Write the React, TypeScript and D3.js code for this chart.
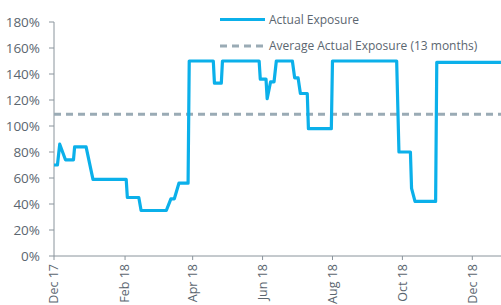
import React from 'react';
import * as d3 from 'd3';

// Actual exposure (date, % exposure)
const dates = [
  '2017-12-01', '2017-12-04', '2017-12-06', '2017-12-11', '2017-12-18', '2017-12-19',
  '2017-12-29', '2018-01-04', '2018-02-02', '2018-02-03', '2018-02-13', '2018-02-15',
  '2018-03-09', '2018-03-13', '2018-03-16', '2018-03-20', '2018-03-28', '2018-03-29',
  '2018-04-19', '2018-04-20', '2018-04-26', '2018-04-27', '2018-05-29', '2018-05-30',
  '2018-06-04', '2018-06-05', '2018-06-08', '2018-06-11', '2018-06-13', '2018-06-27',
  '2018-06-29', '2018-07-02', '2018-07-04', '2018-07-10', '2018-07-11', '2018-07-31',
  '2018-08-01', '2018-09-26', '2018-09-28', '2018-10-08', '2018-10-09', '2018-10-12',
  '2018-10-30', '2018-10-31', '2018-12-26'
];
const exposure = [
  70, 70, 86, 74, 74, 84,
  84, 59, 59, 45, 45, 35,
  35, 44, 44, 56, 56, 150,
  150, 133, 133, 150, 150, 136,
  136, 121, 134, 134, 150, 150,
  137, 137, 125, 125, 98, 98,
  150, 150, 80, 80, 52, 42,
  42, 149, 149
];
const averageExposure = 109;
const yTicks = [0, 20, 40, 60, 80, 100, 120, 140, 160, 180];
const xTickDates = ['2017-12-01', '2018-02-01', '2018-04-01', '2018-06-01', '2018-08-01', '2018-10-01', '2018-12-01'];
const seriesNames = ['Actual Exposure', 'Average Actual Exposure (13 months)'];

const W = 501;
const H = 305;
const margin = { top: 22, right: 0, bottom: 49, left: 54 };
const lineColor = '#0bb0ea';
const avgColor = '#9aabb5';
const textColor = '#5b6670';
const axisColor = '#8a949c';
const font = '"Open Sans", sans-serif';

const parse = d3.utcParse('%Y-%m-%d');
const fmt = d3.utcFormat('%b %y');

export default function App() {
  const x = d3.scaleUtc()
    .domain([parse('2017-12-01')!, parse('2018-12-01')!])
    .range([margin.left, 472.3]);
  const y = d3.scaleLinear().domain([0, 180]).range([H - margin.bottom, margin.top]);

  const points = dates.map((d, i) => ({ date: parse(d)!, v: exposure[i] }));
  const line = d3.line<{ date: Date; v: number }>()
    .x(d => x(d.date))
    .y(d => y(d.v));

  const x0 = margin.left;
  const x1 = W;
  const y0 = H - margin.bottom;

  return (
    <div style={{ position: 'fixed', left: 0, top: 0 }}>
      <svg width={W} height={H} style={{ display: 'block', fontFamily: font }}>
        <rect width={W} height={H} fill="#fff" />

        {/* y axis */}
        <line x1={x0} x2={x0} y1={y(180)} y2={y0} stroke={axisColor} strokeWidth={1} />
        {yTicks.map(t => (
          <g key={t}>
            <line x1={x0 - 5} x2={x0} y1={y(t)} y2={y(t)} stroke={axisColor} />
            <text x={40} y={y(t)} dy="0.35em" textAnchor="end" fontSize={13.5} fill={textColor}>
              {t}%
            </text>
          </g>
        ))}

        {/* x axis */}
        <line x1={x0} x2={x1} y1={y0} y2={y0} stroke={axisColor} strokeWidth={1} />
        {xTickDates.map(d => {
          const xx = x(parse(d)!);
          return (
            <g key={d}>
              <line x1={xx} x2={xx} y1={y0} y2={y0 + 4} stroke={axisColor} />
              <text
                transform={`translate(${xx},${y0 + 8}) rotate(-90)`}
                dy="0.35em"
                textAnchor="end"
                fontSize={12.5}
                fill={textColor}
              >
                {fmt(parse(d)!)}
              </text>
            </g>
          );
        })}

        {/* average */}
        <line
          x1={x0}
          x2={x1}
          y1={y(averageExposure)}
          y2={y(averageExposure)}
          stroke={avgColor}
          strokeWidth={3}
          strokeDasharray="7 5"
        />

        {/* actual exposure */}
        <path d={line(points) ?? ''} fill="none" stroke={lineColor} strokeWidth={3.2} strokeLinejoin="round" />

        {/* legend */}
        <g fontSize={12} fill={textColor}>
          <line x1={220} x2={265} y1={19.5} y2={19.5} stroke={lineColor} strokeWidth={3.2} />
          <text x={269} y={19.5} dy="0.35em">{seriesNames[0]}</text>
          <line x1={220} x2={265} y1={46} y2={46} stroke={avgColor} strokeWidth={3} strokeDasharray="7 5" />
          <text x={269} y={46} dy="0.35em">{seriesNames[1]}</text>
        </g>
      </svg>
    </div>
  );
}
